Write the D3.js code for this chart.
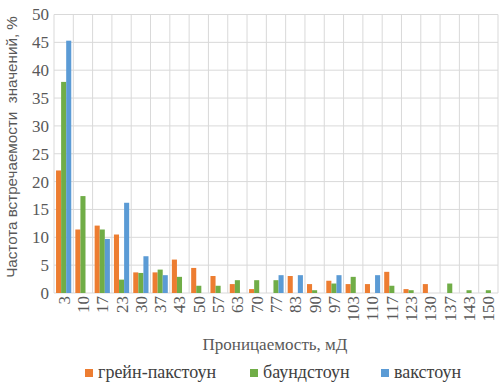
<!DOCTYPE html>
<html><head><meta charset="utf-8">
<script src="https://cdn.jsdelivr.net/npm/d3@7/dist/d3.min.js"></script>
<style>body{margin:0;background:#fff}svg{display:block}</style>
</head><body>
<script>
const categories = ["3","10","17","23","30","37","43","50","57","63","70","77","83","90","97","103","110","117","123","130","137","143","150"];
const grainstone = [22,11.4,12.1,10.5,3.7,3.7,6.0,4.5,3.05,1.6,0.7,0,3.05,1.6,2.2,1.6,1.6,3.8,0.7,1.6,0,0,0];
const boundstone = [37.9,17.4,11.4,2.4,3.6,4.2,2.9,1.3,1.3,2.3,2.3,2.3,0,0.5,1.7,2.9,0,1.3,0.5,0,1.7,0.5,0.5];
const wackestone = [45.3,0,9.7,16.2,6.6,3.2,0,0,0,0,0,3.2,3.2,0,3.2,0,3.2,0,0,0,0,0,0];
const seriesNames = ["грейн-пакстоун","баундстоун","вакстоун"];
const seriesColors = ["#ED7D31","#70AD47","#5B9BD5"];
const yTicks = [0,5,10,15,20,25,30,35,40,45,50];

const SERIF='"Liberation Serif"', SANS='"Liberation Sans"';
const W=501,H=386;
const svg=d3.select("body").append("svg").attr("width",W).attr("height",H);
const pL=54,pR=498,pT=14.5,pB=293;
const x=d3.scaleBand().domain(categories).range([pL,pR]).padding(0);
const xs=d3.scaleBand().domain(seriesNames).range([0,x.bandwidth()]).paddingInner(0).paddingOuter(0.4);
const y=d3.scaleLinear().domain([0,50]).range([pB,pT]);
const grid="#d9d9d9";
svg.append("g").selectAll("line").data(yTicks).join("line")
  .attr("x1",pL).attr("x2",pR).attr("y1",d=>y(d)).attr("y2",d=>y(d))
  .attr("stroke",grid).attr("stroke-width",1);
const bounds=categories.map(c=>x(c)).concat([pR]);
svg.append("g").selectAll("line").data(bounds).join("line")
  .attr("x1",d=>d).attr("x2",d=>d).attr("y1",pT).attr("y2",pB)
  .attr("stroke",grid).attr("stroke-width",1);
const data=[grainstone,boundstone,wackestone];
data.forEach((arr,si)=>{
  svg.append("g").selectAll("rect").data(arr).join("rect")
    .attr("x",(d,i)=>x(categories[i])+xs(seriesNames[si]))
    .attr("width",xs.bandwidth())
    .attr("y",d=>y(d)).attr("height",d=>y(0)-y(d))
    .attr("fill",seriesColors[si]);
});
const yAxis=d3.axisLeft(y).tickValues(yTicks).tickSize(0).tickPadding(5);
const gy=svg.append("g").attr("transform",`translate(${pL},0)`).call(yAxis);
gy.select(".domain").remove();
gy.selectAll("text").style("font-family",SERIF).style("font-size","17px").attr("fill","#595959");
const xAxis=d3.axisBottom(x).tickSize(0).tickPadding(0);
const gx=svg.append("g").attr("transform",`translate(0,${pB})`).call(xAxis);
gx.select(".domain").remove();
gx.selectAll("text").style("font-family",SERIF).style("font-size","17px").attr("fill","#595959")
  .attr("text-anchor","end").attr("dy","0.35em").attr("transform","translate(0,3) rotate(-90)").attr("x",0).attr("y",0);
svg.append("text").attr("x",275).attr("y",350).attr("text-anchor","middle")
  .style("font-family",SERIF).style("font-size","17px").attr("fill","#595959").text("Проницаемость, мД");
svg.append("text").attr("transform","translate(17,147) rotate(-90)").attr("text-anchor","middle")
  .style("font-family",SANS).style("font-size","15.2px").attr("fill","#595959")
  .style("white-space","pre").text("Частота встречаемости  значений, %");
const legX=[85,250,381];
seriesNames.forEach((n,i)=>{
  svg.append("rect").attr("x",legX[i]).attr("y",369).attr("width",8).attr("height",8).attr("fill",seriesColors[i]);
  svg.append("text").attr("x",legX[i]+13).attr("y",378)
    .style("font-family",SERIF).style("font-size","18px").attr("fill","#404040").text(n);
});
</script>
</body></html>
